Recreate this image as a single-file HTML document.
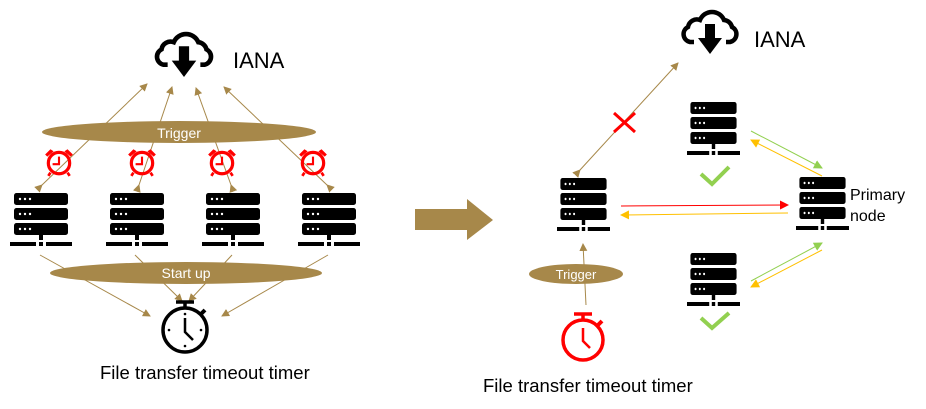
<!DOCTYPE html>
<html><head><style>
html,body{margin:0;padding:0;background:#fff}
svg{display:block}
text{font-family:"Liberation Sans",sans-serif}
</style></head><body>
<svg width="926" height="409" viewBox="0 0 926 409" xmlns="http://www.w3.org/2000/svg">
<defs>
<symbol id="srv" viewBox="0 0 62 56" overflow="visible" preserveAspectRatio="none">
 <rect x="4" y="0" width="54" height="12" rx="2.5" fill="#000"/>
 <rect x="4" y="15" width="54" height="12" rx="2.5" fill="#000"/>
 <rect x="4" y="30" width="54" height="12" rx="2.5" fill="#000"/>
 <g fill="#fff"><circle cx="10" cy="6" r="1.2"/><circle cx="15" cy="6" r="1.2"/><circle cx="20" cy="6" r="1.2"/>
 <circle cx="10" cy="21" r="1.2"/><circle cx="15" cy="21" r="1.2"/><circle cx="20" cy="21" r="1.2"/>
 <circle cx="10" cy="36" r="1.2"/><circle cx="15" cy="36" r="1.2"/><circle cx="20" cy="36" r="1.2"/></g>
 <rect x="29" y="42" width="4" height="5" fill="#000"/>
 <rect x="0" y="49" width="26" height="4" fill="#000"/>
 <rect x="29" y="49" width="4" height="4" fill="#000"/>
 <rect x="36" y="49" width="26" height="4" fill="#000"/>
</symbol>
<symbol id="cloud" viewBox="0 0 60 45" overflow="visible">
 <path d="M14 32 H10 A8 8 0 0 1 8 17 A9 9 0 0 1 20 10 A13 13 0 0 1 44 10 A9 9 0 0 1 52 17 A8 8 0 0 1 50 32 H46" fill="none" stroke="#000" stroke-width="4.5"/>
 <path d="M25 14 H35 V28 H42 L30 44 L18 28 H25 Z" fill="#000"/>
</symbol>
<symbol id="alarm" viewBox="0 0 30 30" overflow="visible">
 <circle cx="15" cy="16" r="10" fill="none" stroke="#f00" stroke-width="3"/>
 <path d="M15 10 V17 H9" fill="none" stroke="#f00" stroke-width="2"/>
 <path d="M2 8 L7 3 L10 5 L4 10Z M28 8 L23 3 L20 5 L26 10Z" fill="#f00"/>
 <path d="M7 25 L5 28 M23 25 L25 28" stroke="#f00" stroke-width="2.5"/>
</symbol>
<marker id="ab" markerWidth="8" markerHeight="8" refX="7" refY="4" orient="auto" markerUnits="userSpaceOnUse"><path d="M0 0 L8 4 L0 8Z" fill="#a7884a"/></marker>
<marker id="ag" markerWidth="9" markerHeight="9" refX="8" refY="4.5" orient="auto" markerUnits="userSpaceOnUse"><path d="M0 0 L9 4.5 L0 9Z" fill="#92d050"/></marker>
<marker id="ay" markerWidth="9" markerHeight="9" refX="8" refY="4.5" orient="auto" markerUnits="userSpaceOnUse"><path d="M0 0 L9 4.5 L0 9Z" fill="#ffc000"/></marker>
<marker id="ar" markerWidth="9" markerHeight="9" refX="8" refY="4.5" orient="auto" markerUnits="userSpaceOnUse"><path d="M0 0 L9 4.5 L0 9Z" fill="#f00"/></marker>
</defs>

<!-- LEFT -->
<use href="#cloud" x="150" y="32" width="68" height="46"/>
<text x="233" y="68" font-size="22">IANA</text>

<g stroke="#a7884a" stroke-width="1" fill="none">
 <line x1="42" y1="185" x2="147" y2="84" marker-start="url(#ab)" marker-end="url(#ab)"/>
 <line x1="139" y1="185" x2="172" y2="87" marker-start="url(#ab)" marker-end="url(#ab)"/>
 <line x1="231" y1="185" x2="196" y2="88" marker-start="url(#ab)" marker-end="url(#ab)"/>
 <line x1="327" y1="185" x2="224" y2="87" marker-start="url(#ab)" marker-end="url(#ab)"/>
 <line x1="40" y1="255" x2="150" y2="316" marker-end="url(#ab)"/>
 <line x1="135" y1="255" x2="182" y2="301" marker-end="url(#ab)"/>
 <line x1="232" y1="255" x2="189" y2="301" marker-end="url(#ab)"/>
 <line x1="328" y1="255" x2="222" y2="316" marker-end="url(#ab)"/>
</g>

<ellipse cx="179" cy="132" rx="137" ry="11" fill="#a7884a"/>
<text x="179" y="138" font-size="14" fill="#fff" text-anchor="middle">Trigger</text>

<use href="#alarm" x="43" y="146" width="32" height="32"/>
<use href="#alarm" x="126" y="146" width="32" height="32"/>
<use href="#alarm" x="206" y="146" width="32" height="32"/>
<use href="#alarm" x="297" y="146" width="32" height="32"/>

<use href="#srv" x="10" y="193" width="62" height="56"/>
<use href="#srv" x="106" y="193" width="62" height="56"/>
<use href="#srv" x="202" y="193" width="62" height="56"/>
<use href="#srv" x="298" y="193" width="62" height="56"/>

<ellipse cx="186" cy="273" rx="136" ry="11" fill="#a7884a"/>
<text x="186" y="278" font-size="14" fill="#fff" text-anchor="middle">Start up</text>

<g fill="none" stroke="#000">
 <circle cx="185" cy="330" r="22" stroke-width="3.5"/>
 <path d="M185 307 V302 M176 302 H194" stroke-width="3.5"/>
 <path d="M201 314 L205 310" stroke-width="4"/>
 <path d="M185 318 V332 L193 340" stroke-width="2.5"/>
</g>
<g fill="#000"><circle cx="185" cy="314" r="1.3"/><circle cx="185" cy="346" r="1.3"/><circle cx="169" cy="330" r="1.3"/><circle cx="201" cy="330" r="1.3"/></g>
<text x="100" y="379" font-size="18.5">File transfer timeout timer</text>

<!-- big arrow -->
<path d="M415 209 H467 V199 L493 220 L467 240 V230 H415Z" fill="#a7884a"/>

<!-- RIGHT -->
<use href="#cloud" x="680" y="10" width="60" height="45"/>
<text x="754" y="47" font-size="22">IANA</text>

<line x1="580" y1="170" x2="678" y2="63" stroke="#a7884a" stroke-width="1" marker-start="url(#ab)" marker-end="url(#ab)"/>
<path d="M614 113 L635 132 M635 113 L614 132" stroke="#f00" stroke-width="3"/>

<use href="#srv" x="557" y="178" width="53" height="56"/>
<use href="#srv" x="687" y="102" width="53" height="56"/>
<use href="#srv" x="687" y="253" width="53" height="56"/>
<use href="#srv" x="796" y="177" width="53" height="56"/>
<text x="850" y="200" font-size="16">Primary</text>
<text x="850" y="221" font-size="16">node</text>

<path d="M701 174 L712 184 L729 167" fill="none" stroke="#92d050" stroke-width="4"/>
<path d="M701 318 L712 328 L729 313" fill="none" stroke="#92d050" stroke-width="4"/>

<line x1="751" y1="131" x2="822" y2="168" stroke="#92d050" stroke-width="1" marker-end="url(#ag)"/>
<line x1="822" y1="176" x2="751" y2="140" stroke="#ffc000" stroke-width="1" marker-end="url(#ay)"/>
<line x1="751" y1="281" x2="822" y2="243" stroke="#92d050" stroke-width="1" marker-end="url(#ag)"/>
<line x1="822" y1="250" x2="751" y2="287" stroke="#ffc000" stroke-width="1" marker-end="url(#ay)"/>
<line x1="621" y1="206" x2="788" y2="205" stroke="#f00" stroke-width="1" marker-end="url(#ar)"/>
<line x1="788" y1="213" x2="621" y2="215" stroke="#ffc000" stroke-width="1" marker-end="url(#ay)"/>

<line x1="586" y1="305" x2="583" y2="244" stroke="#a7884a" stroke-width="1" marker-end="url(#ab)"/>
<ellipse cx="576" cy="274" rx="47" ry="10" fill="#a7884a"/>
<text x="576" y="279" font-size="13" fill="#fff" text-anchor="middle">Trigger</text>

<g fill="none" stroke="#f00">
 <circle cx="583" cy="340" r="20" stroke-width="3.5"/>
 <path d="M583 319 V314 M574 314 H592" stroke-width="3.5"/>
 <path d="M598 325 L602 321" stroke-width="4"/>
 <path d="M583 328 V341 L590 348" stroke-width="2.5"/>
</g>
<text x="483" y="392" font-size="18.5">File transfer timeout timer</text>
</svg>
</body></html>
